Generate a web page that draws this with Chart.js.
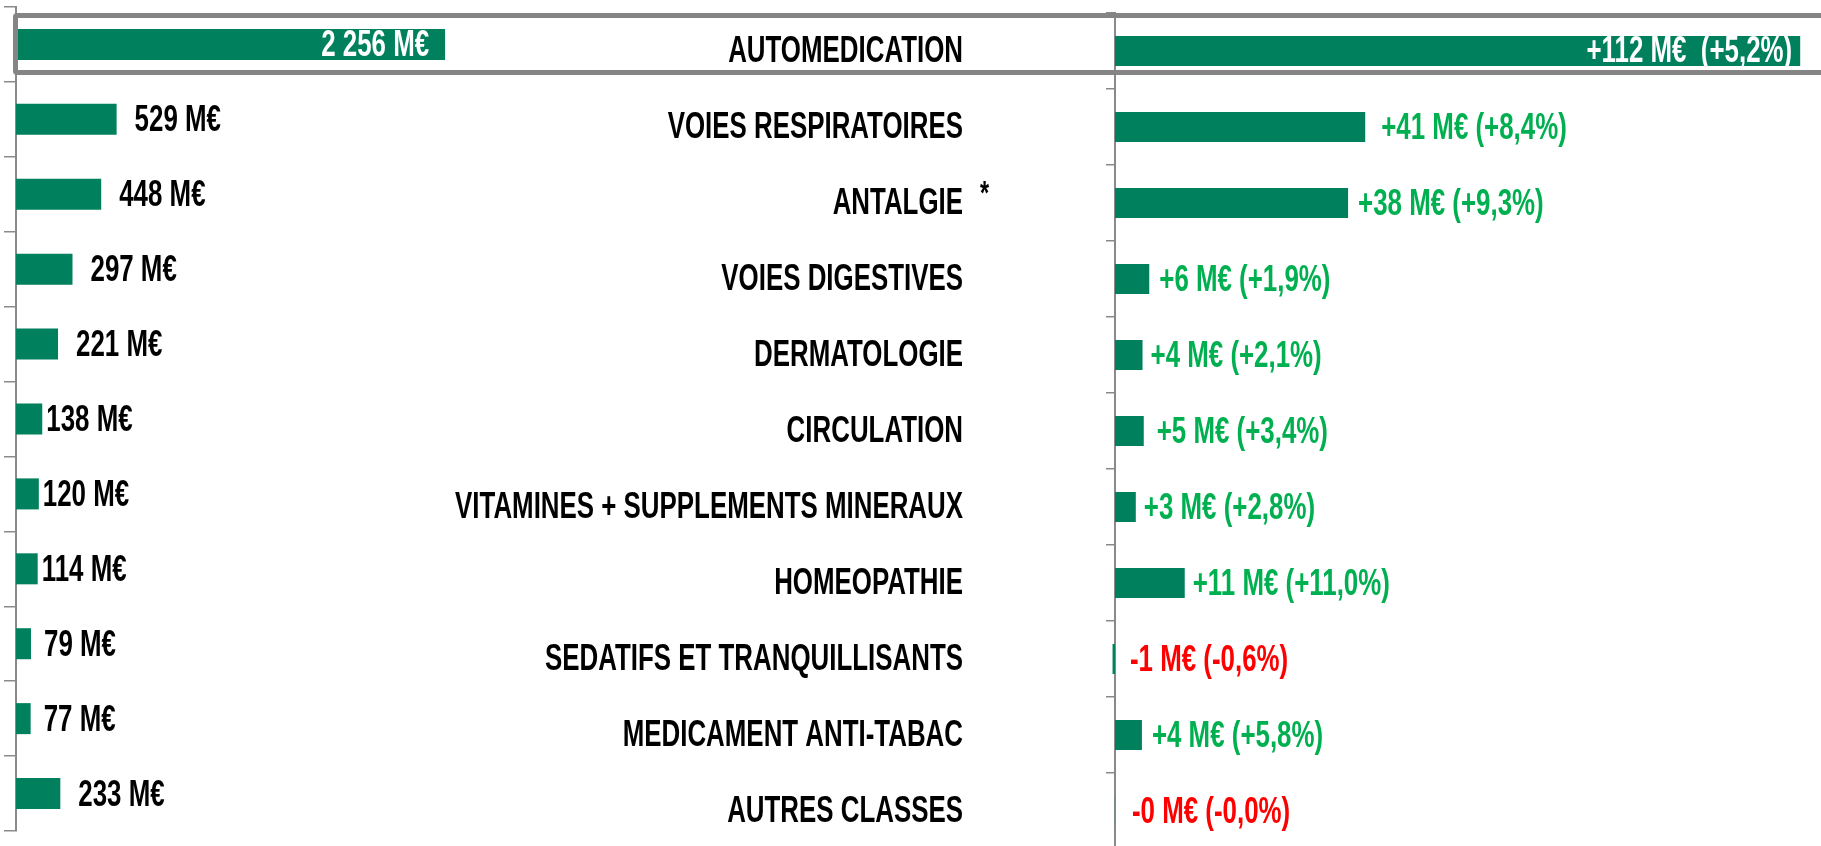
<!DOCTYPE html>
<html>
<head>
<meta charset="utf-8">
<script src="https://cdn.jsdelivr.net/npm/chart.js@4.4.0/dist/chart.umd.min.js"></script>
<style>
  html, body { margin: 0; padding: 0; background: #fff; width: 1821px; height: 846px; overflow: hidden; }
  #leftChart { position: absolute; left: 0; top: 0; }
  #rightChart { position: absolute; left: 300px; top: 0; }
  #highlight {
    position: absolute; left: 13px; top: 13px; width: 1900px; height: 52px;
    border: 5px solid #858585; border-radius: 4px; pointer-events: none;
  }
</style>
</head>
<body>
<canvas id="leftChart" width="967" height="846"></canvas>
<canvas id="rightChart" width="1521" height="849"></canvas>
<div id="highlight"></div>
<script>
'use strict';

var categories = ['AUTOMEDICATION', 'VOIES RESPIRATOIRES', 'ANTALGIE', 'VOIES DIGESTIVES', 'DERMATOLOGIE',
  'CIRCULATION', 'VITAMINES + SUPPLEMENTS MINERAUX', 'HOMEOPATHIE', 'SEDATIFS ET TRANQUILLISANTS',
  'MEDICAMENT ANTI-TABAC', 'AUTRES CLASSES'];
// market size, M€
var marketValues = [2256, 529, 448, 297, 221, 138, 120, 114, 79, 77, 233];
// evolution, M€ (bar lengths)
var deltaValues = [112, 40.9, 38.1, 5.6, 4.5, 4.7, 3.4, 11.4, -0.4, 4.4, -0.02];
var deltaLabels = ['+112 M€  (+5,2%)', '+41 M€ (+8,4%)', '+38 M€ (+9,3%)', '+6 M€ (+1,9%)', '+4 M€ (+2,1%)',
  '+5 M€ (+3,4%)', '+3 M€ (+2,8%)', '+11 M€ (+11,0%)', '-1 M€ (-0,6%)', '+4 M€ (+5,8%)', '-0 M€ (-0,0%)'];
var starredIndex = 2;

var FONT = "'Liberation Sans Narrow', 'Arial Narrow', 'Liberation Sans', Arial, sans-serif";
var SCALE_X = 0.835; // squeeze Liberation Sans to Arial Narrow proportions
var SCALE_Y = 1.18;
var BAR = '#00805c';
var AXIS = '#8a8a8a';

// label nudges, like hand-placed excel labels (px after bar end)
var leftGap = [16, 18, 18, 18, 18, 4, 4, 4, 13, 13, 18];
var rightGap = [8, 16, 10, 10, 8, 13, 8, 8, 15, 10, 17];

function formatMarket(v) {
  return String(v).replace(/\B(?=(\d{3})+(?!\d))/g, ' ') + ' M€';
}

// draws narrow bold text
function narrowText(ctx, text, x, y, align, color, size) {
  ctx.save();
  ctx.font = 'bold ' + (size || 31) + 'px ' + FONT;
  ctx.textBaseline = 'middle';
  ctx.textAlign = align;
  ctx.fillStyle = color;
  ctx.translate(x, y);
  ctx.scale(SCALE_X, SCALE_Y);
  ctx.fillText(text, 0, 0);
  ctx.restore();
}

var leftLabels = {
  id: 'leftLabels',
  afterDatasetsDraw: function (chart) {
    var bars = chart.getDatasetMeta(0).data;
    bars.forEach(function (bar, i) {
      var text = formatMarket(marketValues[i]);
      if (i === 0) narrowText(chart.ctx, text, bar.x - leftGap[i], bar.y + 1, 'right', '#fff');
      else narrowText(chart.ctx, text, bar.x + leftGap[i], bar.y + 2, 'left', '#000');
    });
  }
};

var rightLabels = {
  id: 'rightLabels',
  afterDatasetsDraw: function (chart) {
    var ctx = chart.ctx;
    var bars = chart.getDatasetMeta(0).data;
    var yScale = chart.scales.y;
    var labelX = yScale.right - 9 - 143;
    bars.forEach(function (bar, i) {
      var text = deltaLabels[i];
      if (i === 0) {
        narrowText(ctx, text, bar.x - rightGap[i], bar.y + 1, 'right', '#fff');
      } else {
        var color = text.charAt(0) === '-' ? '#ff0000' : '#00b050';
        narrowText(ctx, text, Math.max(bar.x, bar.base) + rightGap[i], bar.y + 2, 'left', color);
      }
    });
    // category names, right aligned left of the axis
    categories.forEach(function (name, i) {
      narrowText(ctx, name, labelX, yScale.getPixelForValue(i) + 1, 'right', '#000');
    });
    narrowText(ctx, '*', labelX + 17, yScale.getPixelForValue(starredIndex) - 8, 'left', '#000', 28);
  }
};

new Chart(document.getElementById('leftChart').getContext('2d'), {
  type: 'bar',
  data: {
    labels: categories,
    datasets: [{
      data: marketValues,
      backgroundColor: BAR,
      barPercentage: 0.414,
      categoryPercentage: 1
    }]
  },
  options: {
    indexAxis: 'y',
    responsive: false,
    animation: false,
    layout: { padding: { left: 4, top: 7, right: 0, bottom: 15 } },
    plugins: { legend: { display: false }, tooltip: { enabled: false } },
    scales: {
      x: { display: false, min: 0, max: 5000 },
      y: {
        ticks: { display: false },
        grid: { drawOnChartArea: false, tickLength: 12, color: AXIS, lineWidth: 1.5 },
        border: { color: AXIS, width: 2 }
      }
    }
  },
  plugins: [leftLabels]
});

new Chart(document.getElementById('rightChart').getContext('2d'), {
  type: 'bar',
  data: {
    labels: categories,
    datasets: [{
      data: deltaValues,
      backgroundColor: BAR,
      barPercentage: 0.395,
      categoryPercentage: 1,
      clip: false
    }]
  },
  options: {
    indexAxis: 'y',
    responsive: false,
    animation: false,
    layout: { padding: { left: 0, top: 13, right: 0, bottom: 0 } },
    plugins: { legend: { display: false }, tooltip: { enabled: false } },
    scales: {
      x: { display: false, min: 0, max: 115.4 },
      y: {
        afterFit: function (scale) { scale.width = 815; },
        ticks: { display: false },
        grid: { drawOnChartArea: false, tickLength: 9, color: AXIS, lineWidth: 1.5 },
        border: { color: AXIS, width: 2 }
      }
    }
  },
  plugins: [rightLabels]
});
</script>
</body>
</html>
